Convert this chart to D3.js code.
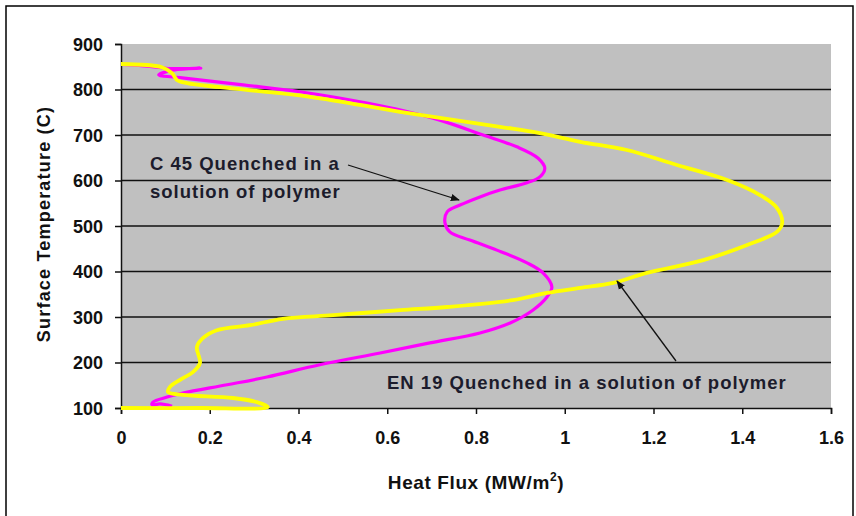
<!DOCTYPE html>
<html>
<head>
<meta charset="utf-8">
<script src="https://cdn.jsdelivr.net/npm/d3@7"></script>
<style>
  body { margin: 0; background: #fff; }
  .tick text { font-family: "Liberation Sans", Arial, sans-serif; font-weight: bold; font-size: 18px; fill: #111; }
  .note { font-family: "Liberation Sans", Arial, sans-serif; font-weight: bold; font-size: 18.5px; letter-spacing: 1px; fill: #1c1c2c; }
</style>
</head>
<body>
<svg width="856" height="516"></svg>
<script>
// C 45 series (heat flux MW/m2, surface temperature C)
var c45 = [
  [0.00, 855], [0.04, 853], [0.115, 846], [0.18, 847], [0.12, 843], [0.085, 832],
  [0.133, 826], [0.275, 810], [0.403, 795], [0.554, 770], [0.703, 737], [0.816, 700],
  [0.892, 674], [0.940, 649], [0.955, 627], [0.944, 608], [0.915, 595], [0.854, 579],
  [0.809, 564], [0.764, 546], [0.735, 531], [0.730, 507], [0.741, 487], [0.786, 469],
  [0.847, 447], [0.915, 419], [0.951, 397], [0.971, 366], [0.960, 344], [0.928, 315],
  [0.877, 287], [0.809, 265], [0.696, 243], [0.584, 221], [0.448, 195], [0.329, 168],
  [0.239, 151], [0.140, 133], [0.104, 124], [0.072, 113], [0.070, 107], [0.088, 109],
  [0.115, 104]
];

// EN 19 series
var en19 = [
  [0.000, 856], [0.092, 849], [0.115, 836], [0.126, 821], [0.149, 814], [0.223, 805],
  [0.426, 784], [0.629, 751], [0.854, 718], [0.944, 704], [1.035, 685], [1.140, 667],
  [1.253, 634], [1.366, 601], [1.440, 568], [1.478, 540], [1.490, 507], [1.478, 487],
  [1.424, 463], [1.312, 425], [1.185, 397], [1.109, 375], [1.035, 364], [0.960, 353],
  [0.883, 337], [0.735, 322], [0.629, 315], [0.478, 304], [0.365, 296], [0.291, 282],
  [0.216, 271], [0.185, 254], [0.171, 234], [0.178, 199], [0.162, 179], [0.133, 162],
  [0.110, 146], [0.106, 135], [0.140, 129], [0.252, 122], [0.306, 113], [0.331, 102],
  [0.178, 100], [0.000, 100]
];

var xTicks = [0, 0.2, 0.4, 0.6, 0.8, 1, 1.2, 1.4, 1.6];
var yTicks = [100, 200, 300, 400, 500, 600, 700, 800, 900];

var svg = d3.select("svg");

// outer frame
svg.append("rect")
  .attr("x", 6).attr("y", 6)
  .attr("width", 847).attr("height", 530)
  .attr("fill", "none").attr("stroke", "#000").attr("stroke-width", 1.5);

var x = d3.scaleLinear().domain([0, 1.6]).range([121, 831]);
var y = d3.scaleLinear().domain([100, 900]).range([408, 44]);

// plot area
svg.append("rect")
  .attr("x", x(0)).attr("y", y(900))
  .attr("width", x(1.6) - x(0)).attr("height", y(100) - y(900))
  .attr("fill", "#c0c0c0");

// gridlines
svg.append("g")
  .selectAll("line")
  .data(yTicks.filter(function(d) { return d > 100 && d < 900; }))
  .join("line")
    .attr("x1", x(0)).attr("x2", x(1.6))
    .attr("y1", function(d) { return y(d); })
    .attr("y2", function(d) { return y(d); })
    .attr("stroke", "#111").attr("stroke-width", 1.5);

// axes
var xAxis = svg.append("g")
  .attr("transform", "translate(0," + y(100) + ")")
  .call(d3.axisBottom(x).tickValues(xTicks).tickFormat(d3.format("")).tickSize(6).tickPadding(17));

var yAxis = svg.append("g")
  .attr("transform", "translate(" + x(0) + ",0)")
  .call(d3.axisLeft(y).tickValues(yTicks).tickSize(6).tickPadding(12));

[xAxis, yAxis].forEach(function(a) {
  a.select(".domain").attr("stroke", "#111").attr("stroke-width", 1.5);
  a.selectAll(".tick line").attr("stroke", "#111").attr("stroke-width", 1.5);
});
yAxis.selectAll(".tick text").attr("dy", "0.36em");

// curves
var line = d3.line()
  .curve(d3.curveCatmullRom.alpha(0.5))
  .x(function(d) { return x(d[0]); })
  .y(function(d) { return y(d[1]); });

svg.append("path")
  .datum(c45)
  .attr("d", line)
  .attr("fill", "none")
  .attr("stroke", "#ff00ff")
  .attr("stroke-width", 3.2)
  .attr("stroke-linejoin", "round");

svg.append("path")
  .datum(en19)
  .attr("d", line)
  .attr("fill", "none")
  .attr("stroke", "#ffff00")
  .attr("stroke-width", 3.8)
  .attr("stroke-linejoin", "round");

// axis titles
var xt = svg.append("text")
  .attr("x", 476).attr("y", 489)
  .attr("text-anchor", "middle")
  .style("font-family", "'Liberation Sans', Arial, sans-serif")
  .style("font-weight", "bold").style("font-size", "19px")
  .style("letter-spacing", "0.6px").style("fill", "#111");
xt.append("tspan").text("Heat Flux (MW/m");
xt.append("tspan").attr("dy", -8).style("font-size", "12px").text("2");
xt.append("tspan").attr("dy", 8).text(")");

svg.append("text")
  .attr("transform", "translate(50,224) rotate(-90)")
  .attr("text-anchor", "middle")
  .style("font-family", "'Liberation Sans', Arial, sans-serif")
  .style("font-weight", "bold").style("font-size", "18px")
  .style("letter-spacing", "1.2px").style("fill", "#111")
  .text("Surface Temperature (C)");

// annotations
svg.append("defs").append("marker")
  .attr("id", "arr")
  .attr("viewBox", "0 0 10 10")
  .attr("refX", 9).attr("refY", 5)
  .attr("markerWidth", 7).attr("markerHeight", 7)
  .attr("orient", "auto")
  .append("path").attr("d", "M0,1 L10,5 L0,9 Z").attr("fill", "#111");

svg.append("text").attr("class", "note").attr("x", 150).attr("y", 170).text("C 45 Quenched in a");
svg.append("text").attr("class", "note").attr("x", 150).attr("y", 198).text("solution of polymer");
svg.append("text").attr("class", "note").attr("x", 387).attr("y", 389).text("EN 19 Quenched in a solution of polymer");

svg.append("line")
  .attr("x1", 348).attr("y1", 165).attr("x2", 459).attr("y2", 200)
  .attr("stroke", "#111").attr("stroke-width", 1.3).attr("marker-end", "url(#arr)");

svg.append("line")
  .attr("x1", 676).attr("y1", 361).attr("x2", 617).attr("y2", 281)
  .attr("stroke", "#111").attr("stroke-width", 1.3).attr("marker-end", "url(#arr)");
</script>
</body>
</html>
